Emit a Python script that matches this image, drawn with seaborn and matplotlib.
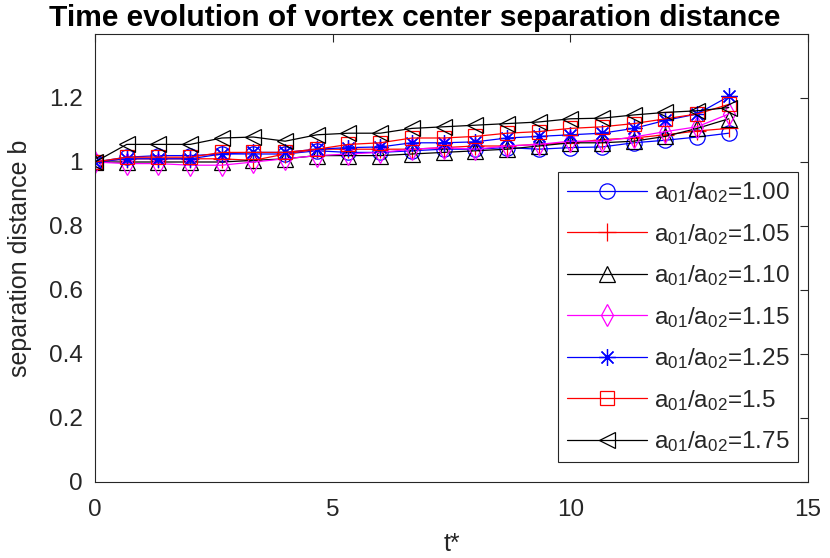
import matplotlib
matplotlib.use("Agg")
import matplotlib.pyplot as plt
import seaborn as sns
from matplotlib.ticker import FormatStrFormatter, FixedLocator

# ---------------- data ----------------
t = [0, 0.667, 1.333, 2, 2.667, 3.333, 4, 4.667, 5.333, 6, 6.667,
     7.333, 8, 8.667, 9.333, 10, 10.667, 11.333, 12, 12.667, 13.333]

b_100 = [1.00, 1.015, 1.02, 1.02, 1.025, 1.025, 1.025, 1.035, 1.03, 1.03, 1.035,
         1.04, 1.04, 1.045, 1.04, 1.045, 1.047, 1.06, 1.068, 1.078, 1.09]
b_105 = [1.00, 1.01, 1.01, 1.01, 1.01, 1.005, 1.025, 1.04, 1.04, 1.04, 1.04,
         1.045, 1.05, 1.05, 1.055, 1.06, 1.07, 1.075, 1.085, 1.097, 1.105]
b_110 = [1.00, 1.00, 1.00, 1.00, 1.00, 1.005, 1.01, 1.02, 1.02, 1.02, 1.025,
         1.03, 1.035, 1.04, 1.05, 1.06, 1.06, 1.065, 1.08, 1.105, 1.135]
b_115 = [1.00, 0.995, 0.995, 0.99, 0.99, 1.00, 1.01, 1.02, 1.025, 1.03, 1.04,
         1.045, 1.04, 1.05, 1.055, 1.065, 1.065, 1.078, 1.095, 1.11, 1.15]
b_125 = [1.00, 1.01, 1.01, 1.01, 1.025, 1.03, 1.03, 1.04, 1.045, 1.047, 1.06,
         1.06, 1.063, 1.075, 1.08, 1.085, 1.09, 1.105, 1.13, 1.15, 1.205]
b_150 = [1.00, 1.015, 1.015, 1.015, 1.03, 1.03, 1.03, 1.04, 1.055, 1.06, 1.075,
         1.075, 1.08, 1.09, 1.095, 1.105, 1.11, 1.12, 1.135, 1.15, 1.18]
b_175 = [1.00, 1.055, 1.055, 1.055, 1.075, 1.078, 1.065, 1.085, 1.09, 1.09, 1.105,
         1.11, 1.115, 1.12, 1.125, 1.135, 1.137, 1.147, 1.155, 1.16, 1.17]

ratios = ["1.00", "1.05", "1.10", "1.15", "1.25", "1.5", "1.75"]
series = [b_100, b_105, b_110, b_115, b_125, b_150, b_175]

x_ticks = [0, 5, 10, 15]
y_ticks = [0, 0.2, 0.4, 0.6, 0.8, 1.0, 1.2]

# ---------------- style ----------------
sns.set_style("white")
plt.rcParams["font.family"] = ["Liberation Sans", "DejaVu Sans"]
plt.rcParams["mathtext.fontset"] = "custom"
plt.rcParams["mathtext.rm"] = "Liberation Sans"
plt.rcParams["mathtext.it"] = "Liberation Sans"

colors = ["#0000ff", "#ff0000", "#000000", "#ff00ff", "#0000ff", "#ff0000", "#000000"]
markers = ["o", "+", "^", "d", (8, 2, 0), "s", "<"]
msizes = [11, 13, 11, 11, 12, 10, 12]

fig = plt.figure(figsize=(8.30, 5.58), dpi=100)
ax = fig.add_axes([95 / 830, 1 - 482 / 558, (808 - 95) / 830, (482 - 34) / 558])

for vals, r, c, m, ms in zip(series, ratios, colors, markers, msizes):
    sns.lineplot(x=t, y=vals, ax=ax, color=c, marker=m, markersize=ms,
                 markerfacecolor="none", markeredgecolor=c, markeredgewidth=0.9,
                 linewidth=0.9, label=r"$\mathregular{a_{01}/a_{02}}$=" + r)

ax.set_xlim(0, 15)
ax.set_ylim(0, 1.4)
ax.xaxis.set_major_locator(FixedLocator(x_ticks))
ax.yaxis.set_major_locator(FixedLocator(y_ticks))
ax.yaxis.set_major_formatter(FormatStrFormatter("%g"))
ax.xaxis.set_major_formatter(FormatStrFormatter("%g"))

axcol = "#262626"
for s in ax.spines.values():
    s.set_color(axcol)
    s.set_linewidth(0.8)
ax.tick_params(direction="in", length=6, width=0.8, colors=axcol,
               labelsize=17.5, top=True, right=True, labelcolor=axcol)
ax.tick_params(axis="y", pad=9)
ax.tick_params(axis="x", pad=12)

ax.set_xlabel("t*", fontsize=18, color=axcol, labelpad=8)
ax.set_ylabel("separation distance b", fontsize=18, color=axcol, labelpad=12)

fig.text(415 / 830, 1 - 18 / 558, "Time evolution of vortex center separation distance",
         ha="center", va="center", fontsize=21.5, fontweight="bold", color="black")

leg = ax.legend(loc="upper left", bbox_to_anchor=((558 - 95) / 713, (482 - 172) / 448),
                fontsize=17.5, frameon=True, fancybox=False, framealpha=1,
                edgecolor=axcol, handlelength=3.3, borderpad=0.35, labelspacing=0.68,
                handletextpad=0.3, borderaxespad=0)
leg.get_frame().set_linewidth(0.8)

fig.savefig("out.png", dpi=100)
